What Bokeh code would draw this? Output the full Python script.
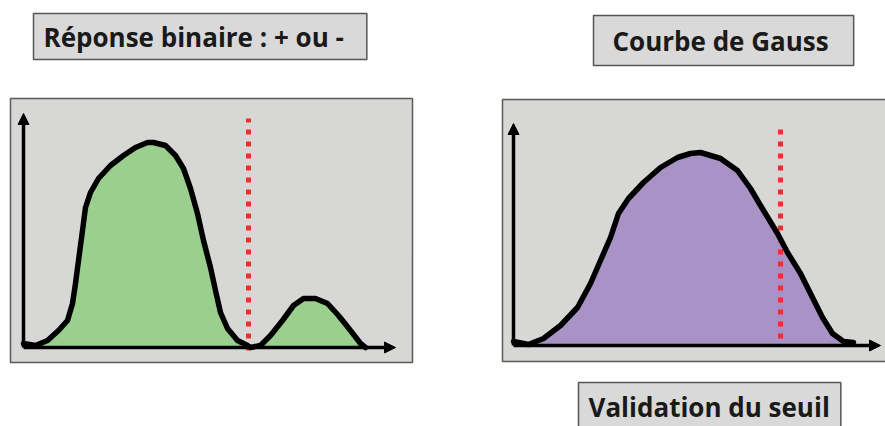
from bokeh.plotting import figure
from bokeh.layouts import row
from bokeh.models import Range1d, Arrow, NormalHead, Label
from bokeh.embed import file_html
from bokeh.resources import INLINE

# ---- data (arbitrary units) ----
# Left panel: bimodal response
left_x = [0, 3, 6, 8.75, 11, 12.25, 13, 13.75, 14.75, 15.5, 16.75, 18.75, 21.75, 25, 28, 31,
          32.5, 35.5, 38, 40, 41.75, 43.5, 45, 46.75, 48, 49.25, 51, 53.5, 56, 56.75,
          59.25, 61.75, 64.75, 67.5, 70, 73, 76, 78.75, 81.75, 84.25, 85.5]
left_y = [1.6, 0.8, 2.8, 6.8, 10.8, 17.6, 25.6, 34.8, 46.8, 56, 62, 67.6, 72.8, 76.8, 80, 82,
          82, 80.8, 76.8, 71.6, 63.6, 53.6, 42.8, 32, 22.8, 14, 7.6, 2.8, 0.8, 0,
          0.8, 4.8, 10.8, 16.8, 19.6, 19.6, 17.6, 12.8, 6.8, 1.6, 0]
left_threshold = 56.25
left_threshold_span = [-1.2, 91.6]

# Right panel: Gaussian-like curve
right_x = [0, 3.75, 7.5, 11.75, 16, 19.25, 21.75, 24.25, 26.25, 28.75, 32.5, 36.75, 41, 44.25,
           46.75, 51.75, 56, 59.25, 62.5, 66, 68.5, 71.75, 74.75, 77.25, 79.75, 82.5, 85]
right_y = [1.6, 0.4, 2.8, 8, 15.2, 24.8, 34, 43.2, 52.8, 58.8, 65.2, 71.2, 75.2, 76.8,
           77.2, 74.8, 70, 62.8, 54, 44.8, 37.2, 28.8, 19.2, 11.2, 4.8, 1.6, 1.2]
right_threshold = 66.75
right_threshold_span = [2.8, 87.2]

titles = ["Réponse binaire : + ou -", "Courbe de Gauss", "Validation du seuil"]

FONT = "Open Sans"
PANEL_BG = "#d7d8d6"
GREEN = "#9bcf8e"
PURPLE = "#a993c6"
RED = "#ee2f2f"


def canvas(width, xr, yr):
    p = figure(width=width, height=426, x_range=Range1d(*xr), y_range=Range1d(*yr),
               output_backend="svg", toolbar_location=None, title=None,
               x_axis_location=None, y_axis_location=None,
               min_border=0)
    p.grid.visible = False
    p.background_fill_color = "white"
    p.border_fill_color = "white"
    p.outline_line_color = None
    return p


def add_panel(p, box):
    l, r, b, t = box
    p.quad(left=l, right=r, bottom=b, top=t, fill_color=PANEL_BG,
           line_color="#5a5a5a", line_width=1.5)


def add_axes(p, xmax, ymax):
    for xe, ye in [(xmax, 0), (0, ymax)]:
        p.add_layout(Arrow(end=NormalHead(size=11, fill_color="black", line_color="black"),
                           x_start=0, y_start=0, x_end=xe, y_end=ye,
                           line_width=3.5, line_color="black"))


def add_title(p, text, x, y, pad):
    p.add_layout(Label(x=x, y=y, text=text, text_font=FONT, text_font_style="bold",
                       text_font_size="26px", text_color="#1a1a1a",
                       text_align="left", text_baseline="top",
                       background_fill_color="#d9d9d9", border_line_color="#555555",
                       border_line_width=1.5, padding=pad))


# ---- left panel ----
pl = canvas(460, (-5.75, 109.25), (-31.6, 138.8))
add_panel(pl, (-3.25, 97.25, -6, 99.6))
pl.varea(x=left_x, y1=0, y2=left_y, fill_color=GREEN)
add_axes(pl, 93, 93.6)
pl.line([left_threshold, left_threshold], left_threshold_span, line_color=RED,
        line_width=5, line_dash="5 7")
pl.line(left_x, left_y, line_color="black", line_width=5.5, line_join="round", line_cap="round")
add_title(pl, titles[0], 2.5, 133.6, dict(left=10, right=23, top=5, bottom=5))

# ---- right panel ----
pr = canvas(425, (-13.25, 93), (-32.4, 138))
add_panel(pr, (-2.75, 95, -6.4, 98.4))
pr.varea(x=right_x, y1=0, y2=right_y, fill_color=PURPLE)
add_axes(pr, 91.75, 88.8)
pr.line([right_threshold, right_threshold], right_threshold_span, line_color=RED,
        line_width=5, line_dash="5 7")
pr.line(right_x, right_y, line_color="black", line_width=5.5, line_join="round", line_cap="round")
add_title(pr, titles[1], 20, 132, dict(left=19, right=25, top=7, bottom=7))
add_title(pr, titles[2], 16.25, -14.8, dict(left=10, right=11, top=6, bottom=9))

layout = row(pl, pr)
open("out.html", "w").write(file_html(layout, INLINE))
